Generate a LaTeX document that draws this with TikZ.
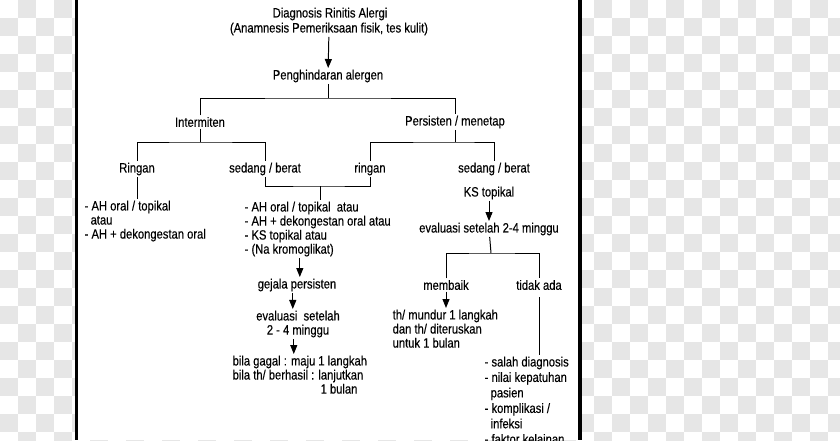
\documentclass[tikz,border=0pt]{standalone}
\usepackage{fontspec}
\setmainfont{Liberation Sans}[FakeStretch=0.83, FakeBold=0.3]
\usetikzlibrary{arrows.meta}
\definecolor{checker}{HTML}{E6E6E6}
\tikzset{
  txt/.style={inner sep=1pt, font=\fontsize{9.6}{10}\selectfont},
  lst/.style={txt, align=left, anchor=north west},
  link/.style={line width=0.7pt},
  arr/.style={link, -{Triangle[length=6.4pt, width=5pt]}}
}
\begin{document}
\begin{tikzpicture}[x=0.025cm, y=-0.025cm]
  \useasboundingbox (0,0) rectangle (840,440);
  % Draw the checkered background and the page
  \foreach \i in {0,...,46}
    \foreach \j in {0,...,24} {
      \pgfmathtruncatemacro\cellodd{mod(\i+\j,2)}
      \ifnum\cellodd=1 \fill[checker] (18*\i,18*\j) rectangle ++(18,18); \fi
    }
  \fill[white] (78,0) rectangle (578,440);
  \fill[black] (74.5,0) rectangle (78,440);
  \fill[black] (578,0) rectangle (582,440);

  % Draw the top of the tree
  \node[txt] (diag) at (330,14) {Diagnosis Rinitis Alergi};
  \node[txt] (anam) at (329,29) {(Anamnesis Pemeriksaan fisik, tes kulit)};
  \node[txt] (peng) at (328,76) {Penghindaran alergen};
  \draw[arr] (anam) -- (peng);
  \node[txt] (inter) at (200,122) {Intermiten};
  \node[txt] (pers) at (455,122) {Persisten / menetap};
  \coordinate (bar1) at (328,98);
  \draw[link] (peng) -- (bar1);
  \draw[link] (inter) |- (bar1) -| (pers);

  % Draw the intermittent branch
  \node[txt] (ringL) at (137,169) {Ringan};
  \node[txt] (sedL) at (265,169) {sedang / berat};
  \coordinate (bar2) at (200,142);
  \draw[link] (inter) -- (bar2);
  \draw[link] (ringL) |- (bar2) -| (sedL);
  \node[lst] (listL) at (83,199) {- AH oral / topikal\\\phantom{-}\,atau\\- AH + dekongestan oral};
  \draw[link] (ringL) -- (ringL |- listL.north);

  % Draw the persistent branch
  \node[txt] (ringR) at (370,169) {ringan};
  \node[txt] (sedR) at (494,169) {sedang / berat};
  \coordinate (bar3) at (455,142);
  \draw[link] (pers) -- (bar3);
  \draw[link] (ringR) |- (bar3) -| (sedR);

  % Draw the mild persistent / moderate intermittent path
  \coordinate (bar4) at (320,186);
  \draw[link] (sedL) |- (bar4) -| (ringR);
  \node[lst] (listM) at (243,200) {- AH oral / topikal\ \ atau\\- AH + dekongestan oral atau\\- KS topikal atau\\- (Na kromoglikat)};
  \draw[link] (bar4) -- (bar4 |- listM.north);
  \node[txt] (gejala) at (297,285) {gejala persisten};
  \draw[arr] ([xshift=2pt]gejala.north |- listM.south) -- ([xshift=2pt]gejala.north);
  \node[txt, align=center] (eval1) at (298,324) {evaluasi\ \ setelah\\2 - 4 minggu};
  \draw[arr] ([xshift=-3pt]gejala.south) -- ([xshift=-3pt]gejala.south |- eval1.north);
  \node[lst] (bila) at (231,354) {bila gagal : maju 1 langkah\\bila th/ berhasil : lanjutkan\\\phantom{bila th/ berhasil : }\,1 bulan};
  \draw[arr] ([xshift=-3pt]eval1.south) -- ([xshift=-3pt]eval1.south |- bila.north);

  % Draw the moderate persistent path
  \node[txt] (ks) at (489,193) {KS topikal};
  \node[txt] (evalR) at (489,229) {evaluasi setelah 2-4 minggu};
  \draw[arr] (ks) -- (evalR);
  \node[txt] (memb) at (446,285) {membaik};
  \node[txt] (tidak) at (539,285) {tidak ada};
  \coordinate (bar5) at (491,253);
  \draw[link] (evalR) -- (bar5);
  \draw[link] (memb) |- (bar5) -| (tidak);
  \node[lst] (thm) at (391,308) {th/ mundur 1 langkah\\dan th/ diteruskan\\untuk 1 bulan};
  \draw[arr] (memb) -- (memb |- thm.north);
  \node[lst, font=\fontsize{9.6}{11}\selectfont] (sebab) at (483,355) {- salah diagnosis\\- nilai kepatuhan\\\phantom{-}\,pasien\\- komplikasi /\\\phantom{-}\,infeksi\\- faktor kelainan};
  \draw[link, shorten <=4pt] (tidak) -- (tidak |- sebab.north);
\end{tikzpicture}
\end{document}
